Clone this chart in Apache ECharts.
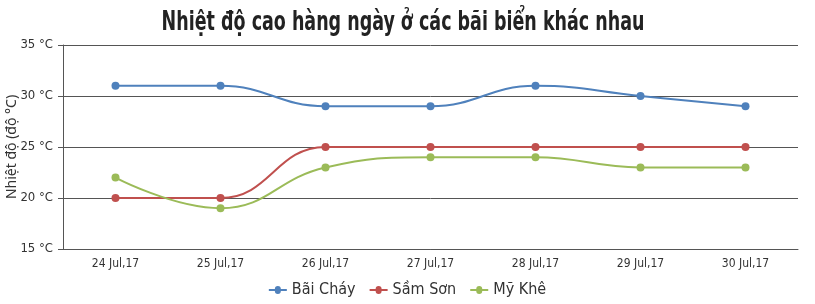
<!DOCTYPE html>
<html><head><meta charset="utf-8">
<script src="https://cdn.jsdelivr.net/npm/echarts@6/dist/echarts.min.js"></script>
<style>html,body{margin:0;padding:0;background:#fff}#c{width:815px;height:304px}</style>
</head><body><div id="c"></div>
<script>
const categories = ["24 Jul,17","25 Jul,17","26 Jul,17","27 Jul,17","28 Jul,17","29 Jul,17","30 Jul,17"];
const baiChay = [31,31,29,29,31,30,29];
const samSon = [20,20,25,25,25,25,25];
const myKhe = [22,19,23,24,24,23,23];
const seriesNames = ["Bãi Cháy","Sầm Sơn","Mỹ Khê"];
const titleText = "Nhiệt độ cao hàng ngày ở các bãi biển khác nhau";
const yAxisTitle = "Nhiệt độ (độ °C)";
const colors = ["#4F81BC","#C0504E","#9BBB58"];
const font = "'DejaVu Sans Condensed',sans-serif";
const chart = echarts.init(document.getElementById('c'));
function mk(name, data, color){
  return {name, type:'line', data, smooth:0.45, symbol:'circle', symbolSize:8,
    itemStyle:{color}, lineStyle:{color, width:2}};
}
chart.setOption({
  animation:false,
  color: colors,
  graphic:[
    {type:'text', x:403, y:23, scaleX:0.72, scaleY:1,
      style:{text:titleText, align:'center', verticalAlign:'middle',
        font:"bold 27px 'DejaVu Sans Condensed',sans-serif", fill:'#222'}},
    {type:'text', x:12, y:147, rotation:Math.PI/2,
      style:{text:yAxisTitle, align:'center', verticalAlign:'middle',
        font:"14px 'Noto Sans',sans-serif", fill:'#333'}}
  ],
  legend:{bottom:1, itemGap:14, itemWidth:18, itemHeight:8, icon:'path://M0,3h6a3,3 0 1 1 6,0h6v2h-6a3,3 0 1 1 -6,0h-6z',
    textStyle:{fontFamily:font, fontSize:16, color:'#333'}, data:seriesNames},
  grid:{left:63, right:17, top:45, bottom:55, outerBoundsMode:'none', containLabel:false},
  xAxis:{type:'category', data:categories, boundaryGap:true,
    axisLine:{lineStyle:{color:'#555', width:1}},
    axisTick:{alignWithLabel:true, length:5, lineStyle:{color:'#555'}},
    axisLabel:{fontFamily:font, fontSize:12, color:'#333', margin:9}},
  yAxis:{type:'value', min:15, max:35, interval:5,
    axisLine:{show:true, lineStyle:{color:'#555'}},
    axisTick:{show:true, length:5, lineStyle:{color:'#555'}},
    axisLabel:{formatter:'{value} °C', fontFamily:font, fontSize:13, color:'#333', margin:10},
    splitLine:{lineStyle:{color:'#555', width:1}}},
  series:[mk(seriesNames[0], baiChay, colors[0]), mk(seriesNames[1], samSon, colors[1]), mk(seriesNames[2], myKhe, colors[2])]
});
</script></body></html>
